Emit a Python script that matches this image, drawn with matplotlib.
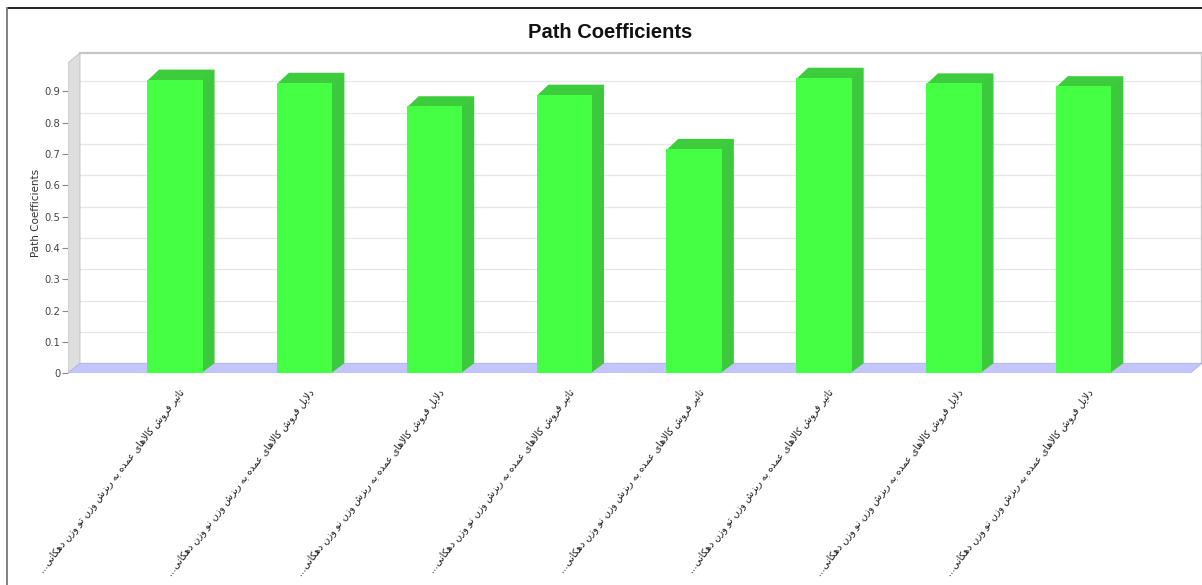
import matplotlib
matplotlib.use("Agg")
import matplotlib.pyplot as plt
from matplotlib.patches import Polygon
from matplotlib.lines import Line2D

# ---------------- data ----------------
categories = [
    "تاثیر فروش کالاهای عمده به ریزش وزن تو وزن دهکانی",
    "دلایل فروش کالاهای عمده به ریزش وزن نو وزن دهکانی",
    "دلایل فروش کالاهای عمده به ریزش وزن نو وزن دهکانی",
    "تاثیر فروش کالاهای عمده به ریزش وزن نو وزن دهکانی",
    "تاثیر فروش کالاهای عمده به ریزش وزن نو وزن دهکانی",
    "تاثیر فروش کالاهای عمده به ریزش وزن تو وزن دهکانی",
    "دلایل فروش کالاهای عمده به ریزش وزن نو وزن دهکانی",
    "دلایل فروش کالاهای عمده به ریزش وزن نو وزن دهکانی",
]
values = [0.937, 0.927, 0.852, 0.889, 0.716, 0.943, 0.925, 0.916]
yticks = [0, 0.1, 0.2, 0.3, 0.4, 0.5, 0.6, 0.7, 0.8, 0.9]
ytick_labels = ["0", "0.1", "0.2", "0.3", "0.4", "0.5", "0.6", "0.7", "0.8", "0.9"]
title = "Path Coefficients"
ylabel = "Path Coefficients"

# ---------------- minimal Arabic/Persian shaping ----------------
FORMS = {
    'ا': (0xFE8D, 0xFE8E, None, None), 'آ': (0xFE81, 0xFE82, None, None),
    'ب': (0xFE8F, 0xFE90, 0xFE91, 0xFE92), 'پ': (0xFB56, 0xFB57, 0xFB58, 0xFB59),
    'ت': (0xFE95, 0xFE96, 0xFE97, 0xFE98), 'ث': (0xFE99, 0xFE9A, 0xFE9B, 0xFE9C),
    'ج': (0xFE9D, 0xFE9E, 0xFE9F, 0xFEA0), 'ح': (0xFEA1, 0xFEA2, 0xFEA3, 0xFEA4),
    'خ': (0xFEA5, 0xFEA6, 0xFEA7, 0xFEA8), 'چ': (0xFB7A, 0xFB7B, 0xFB7C, 0xFB7D),
    'د': (0xFEA9, 0xFEAA, None, None), 'ذ': (0xFEAB, 0xFEAC, None, None),
    'ر': (0xFEAD, 0xFEAE, None, None), 'ز': (0xFEAF, 0xFEB0, None, None),
    'ژ': (0xFB8A, 0xFB8B, None, None),
    'س': (0xFEB1, 0xFEB2, 0xFEB3, 0xFEB4), 'ش': (0xFEB5, 0xFEB6, 0xFEB7, 0xFEB8),
    'ع': (0xFEC9, 0xFECA, 0xFECB, 0xFECC), 'ف': (0xFED1, 0xFED2, 0xFED3, 0xFED4),
    'ق': (0xFED5, 0xFED6, 0xFED7, 0xFED8), 'ک': (0xFB8E, 0xFB8F, 0xFB90, 0xFB91),
    'گ': (0xFB92, 0xFB93, 0xFB94, 0xFB95), 'ل': (0xFEDD, 0xFEDE, 0xFEDF, 0xFEE0),
    'م': (0xFEE1, 0xFEE2, 0xFEE3, 0xFEE4), 'ن': (0xFEE5, 0xFEE6, 0xFEE7, 0xFEE8),
    'و': (0xFEED, 0xFEEE, None, None), 'ه': (0xFEE9, 0xFEEA, 0xFEEB, 0xFEEC),
    'ی': (0xFBFC, 0xFBFD, 0xFBFE, 0xFBFF),
}


def joins_next(ch):
    return ch in FORMS and FORMS[ch][2] is not None


def shape(text):
    out = []
    i = 0
    n = len(text)
    while i < n:
        ch = text[i]
        prev = text[i - 1] if i > 0 else ''
        connect_prev = joins_next(prev)
        if ch == 'ل' and i + 1 < n and text[i + 1] == 'ا':
            out.append(chr(0xFEFC if connect_prev else 0xFEFB))
            i += 2
            continue
        if ch not in FORMS:
            out.append(ch)
            i += 1
            continue
        nxt = text[i + 1] if i + 1 < n else ''
        connect_next = joins_next(ch) and nxt in FORMS
        iso, fin, ini, med = FORMS[ch]
        if connect_prev and connect_next:
            out.append(chr(med))
        elif connect_prev:
            out.append(chr(fin))
        elif connect_next:
            out.append(chr(ini))
        else:
            out.append(chr(iso))
        i += 1
    return ''.join(reversed(out))


# ---------------- figure ----------------
W, H, DPI = 1202, 585, 100
fig = plt.figure(figsize=(W / DPI, H / DPI), dpi=DPI)
fig.patch.set_facecolor('white')

left_px, right_px, bottom_px, top_px = 68, 1202, 373.3, 53
ax = fig.add_axes([left_px / W, 1 - bottom_px / H,
                   (right_px - left_px) / W, (bottom_px - top_px) / H])

DX, DY = 0.092, 0.032        # 3D depth in data units
XMIN, XMAX = -0.823, 7.82    # front plane limits
YTOP = 0.99
ax.set_xlim(XMIN, XMAX + DX)
ax.set_ylim(0, YTOP + DY)
ax.set_facecolor('none')
for s in ax.spines.values():
    s.set_visible(False)

# back wall gridlines
for yv in yticks[1:]:
    ax.add_line(Line2D([XMIN + DX, XMAX + DX], [yv + DY, yv + DY],
                       color='#e6e6e6', lw=0.9, zorder=1))
# back wall border
ax.add_line(Line2D([XMIN + DX, XMAX + DX, XMAX + DX], [YTOP + DY, YTOP + DY, DY],
                   color='#c4c4c4', lw=1.6, zorder=1, clip_on=False))

# left wall
ax.add_patch(Polygon([(XMIN, 0), (XMIN, YTOP), (XMIN + DX, YTOP + DY), (XMIN + DX, DY)],
                     closed=True, facecolor='#dedede', edgecolor='#c8c8c8', lw=0.8, zorder=2))
# floor
ax.add_patch(Polygon([(XMIN, 0), (XMAX, 0), (XMAX + DX, DY), (XMIN + DX, DY)],
                     closed=True, facecolor='#c4c4ff', edgecolor='#b0b0ee', lw=0.6, zorder=2))

# bars
x = list(range(len(values)))
bw = 0.428
ov = 0.012  # small overlap under the front face to avoid seams
ax.bar(x, values, width=bw, color='#44ff44', edgecolor='none', zorder=5)
for xi, v in zip(x, values):
    r = xi + bw / 2
    l = xi - bw / 2
    ax.add_patch(Polygon([(r - ov, 0), (r + DX, DY), (r + DX, v + DY), (r - ov, v)], closed=True,
                         facecolor='#3dc93d', edgecolor='none', zorder=4))
    ax.add_patch(Polygon([(l, v - 0.004), (r, v - 0.004), (r + DX, v + DY), (l + DX, v + DY)],
                         closed=True, facecolor='#3ccc3c', edgecolor='none', zorder=4))

# y axis
ax.set_yticks(yticks)
ax.set_yticklabels(ytick_labels)
ax.tick_params(axis='y', length=4, width=0.8, color='#888888', pad=1.5,
               labelsize=7.2, labelcolor='#444444')
ax.set_xticks([])
ax.set_ylabel(ylabel, fontsize=7.5, color='#333333')
ax.yaxis.set_label_coords(-0.024, 0.5)

# category labels (visual order, truncated with an ellipsis at the end)
for xi, lab in zip(x, categories):
    ax.annotate('...' + shape(lab), xy=(xi, 0), xytext=(2.5, -10), textcoords='offset points',
                rotation=52, rotation_mode='anchor', ha='right', va='top',
                fontsize=6.9, color='#1a1a1a', family=['DejaVu Sans'],
                annotation_clip=False)

# title
fig.text(0.508, 1 - 32 / H, title, ha='center', va='center', fontsize=14.5,
         fontweight='bold', family=['Liberation Sans', 'DejaVu Sans'], color='#111111')

# outer frame
fig.add_artist(Line2D([8 / W, 1], [1 - 8 / H, 1 - 8 / H], color='#111111', lw=1.3))
fig.add_artist(Line2D([7 / W, 7 / W], [0, 1 - 8 / H], color='#777777', lw=1.3))

fig.savefig('out.png', dpi=DPI)
